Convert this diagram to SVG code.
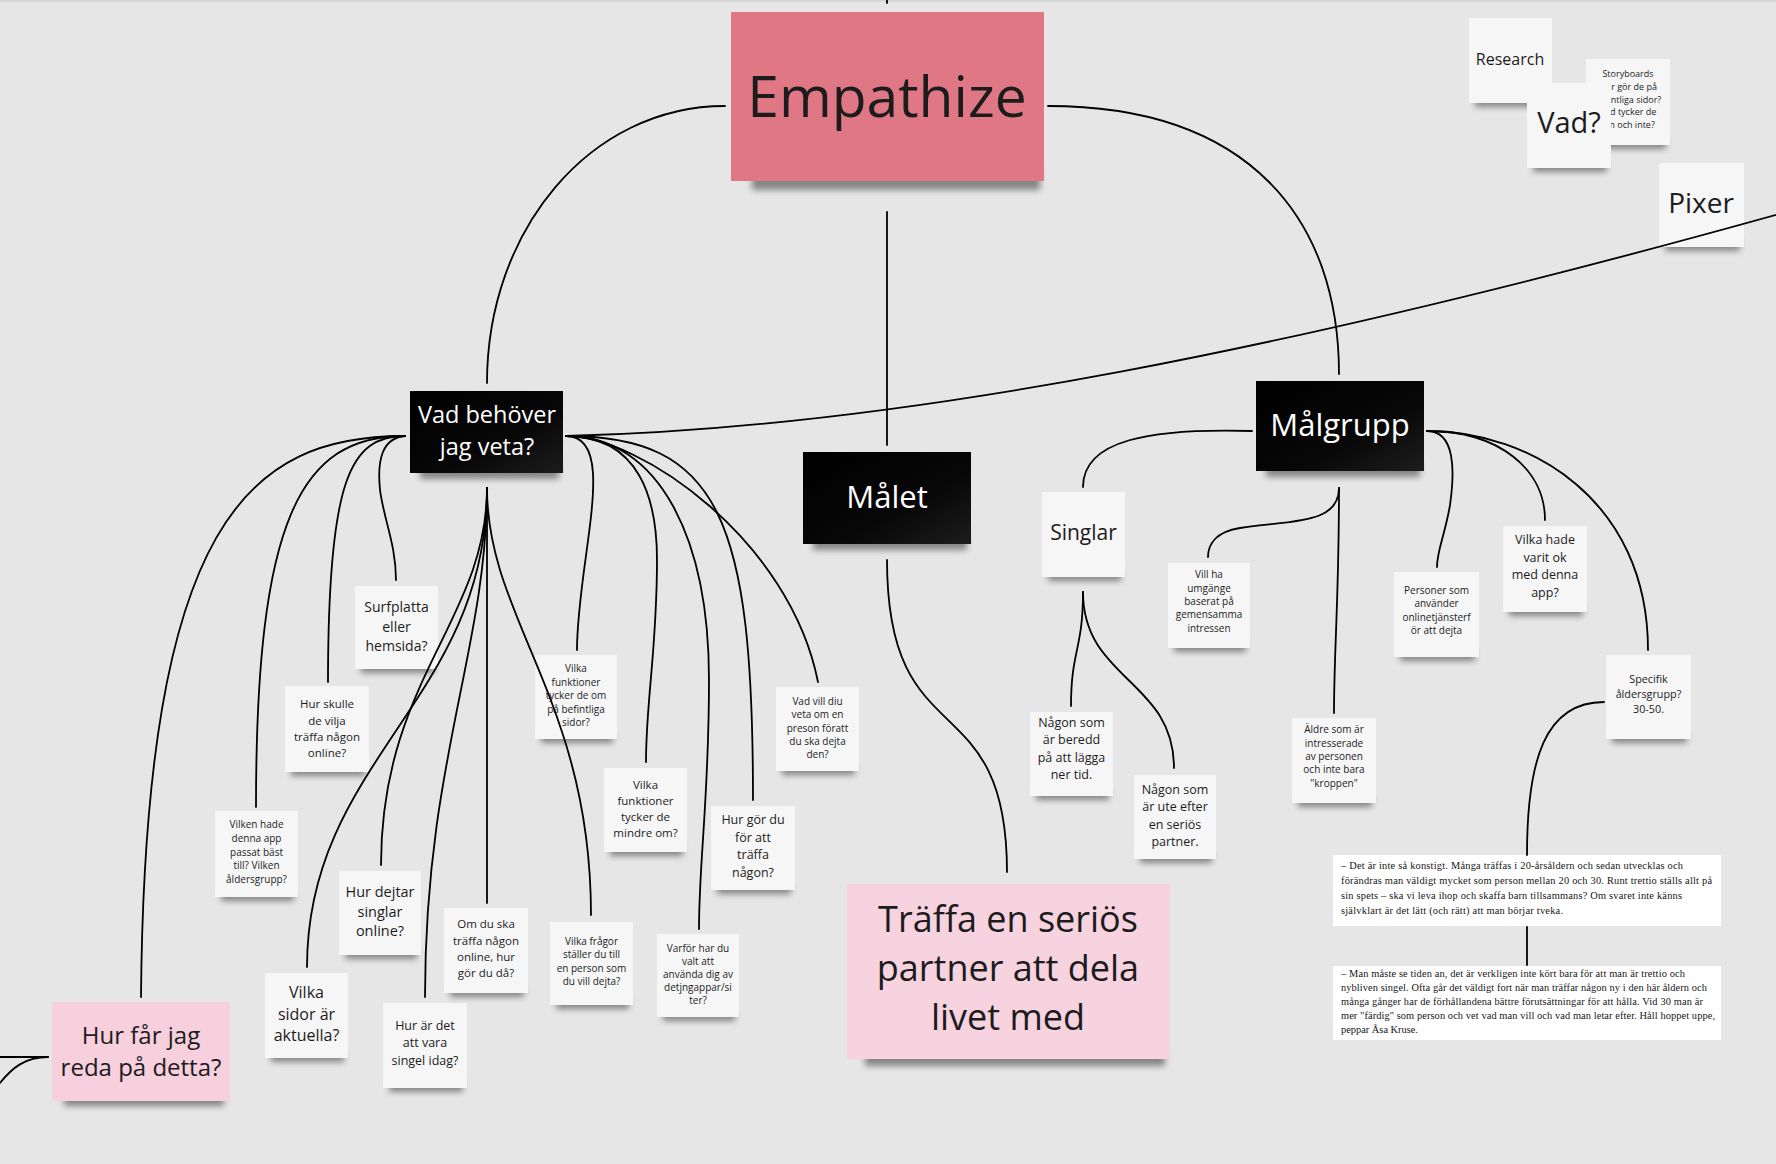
<svg xmlns="http://www.w3.org/2000/svg" width="1776" height="1164" viewBox="0 0 1776 1164">
<defs>
<style>
.bg{fill:#e6e6e6}
.note{fill:#f6f6f7}
.dark{fill:url(#gd)}
.sh{fill:#000;opacity:.42;filter:url(#blur)}
.t{font-family:'Open Sans','Noto Sans','DejaVu Sans',sans-serif;fill:#1c1c1c;text-anchor:middle}
.w{fill:#ffffff}
.c{fill:none;stroke:#000;stroke-width:1.8;stroke-linecap:round}
.s{font-family:'Liberation Serif','DejaVu Serif',serif;font-size:10.4px;fill:#161616}
</style>
<filter id="blur" x="-20%" y="-80%" width="140%" height="260%"><feGaussianBlur stdDeviation="3.2"/></filter>
<linearGradient id="gd" x1="0" y1="0" x2="1" y2="1"><stop offset="0" stop-color="#000"/><stop offset="0.6" stop-color="#070707"/><stop offset="1" stop-color="#1d1d1d"/></linearGradient>
</defs>
<rect class="bg" x="0" y="0" width="1776" height="1164"/>
<line x1="0" y1="1" x2="1776" y2="1" stroke="#d6d6d6" stroke-width="2"/>

<g id="empathize">
<rect class="sh" x="752" y="168" width="288" height="22"/>
<rect x="731" y="12" width="313" height="169" fill="#e07785"/>
<text class="t" x="887" y="117" font-size="57">Empathize</text>
</g>

<g id="research">
<rect class="sh" x="1475" y="95" width="73" height="12"/>
<rect class="note" x="1469" y="18" width="83" height="85"/>
<text class="t" x="1510" y="65" font-size="16">Research</text>
</g>
<g id="storyboards">
<rect class="sh" x="1592" y="137" width="74" height="12"/>
<rect class="note" x="1586" y="59" width="84" height="86"/>
<text class="t" font-size="9"><tspan x="1628" y="77">Storyboards</tspan><tspan x="1628" y="90">Hur gör de på</tspan><tspan x="1628" y="103">befintliga sidor?</tspan><tspan x="1628" y="115">Vad tycker de</tspan><tspan x="1628" y="128">om och inte?</tspan></text>
</g>
<g id="vad">
<rect class="sh" x="1533" y="160" width="74" height="12"/>
<rect class="note" x="1527" y="83" width="84" height="85"/>
<text class="t" x="1569" y="133" font-size="29">Vad?</text>
</g>
<g id="pixer">
<rect class="sh" x="1665" y="239" width="75" height="12"/>
<rect class="note" x="1659" y="163" width="85" height="84"/>
<text class="t" x="1701" y="213" font-size="28">Pixer</text>
</g>

<g id="vad-behover">
<rect class="sh" x="420" y="465" width="139" height="14"/>
<rect class="dark" x="410" y="391" width="153" height="82"/>
<text class="t w" font-size="23.5"><tspan x="487" y="423">Vad behöver</tspan><tspan x="487" y="455">jag veta?</tspan></text>
</g>
<g id="malet">
<rect class="sh" x="813" y="536" width="154" height="14"/>
<rect class="dark" x="803" y="452" width="168" height="92"/>
<text class="t w" x="887" y="508" font-size="31">Målet</text>
</g>
<g id="malgrupp">
<rect class="sh" x="1266" y="463" width="154" height="14"/>
<rect class="dark" x="1256" y="381" width="168" height="90"/>
<text class="t w" x="1340" y="436" font-size="31">Målgrupp</text>
</g>
<g id="traffa">
<rect class="sh" x="865" y="1046" width="300" height="20"/>
<rect x="847" y="884" width="323" height="175" fill="#f7d2df"/>
<text class="t" font-size="36"><tspan x="1008" y="932">Träffa en seriös</tspan><tspan x="1008" y="981">partner att dela</tspan><tspan x="1008" y="1030">livet med</tspan></text>
</g>
<g id="hur-far-jag">
<rect class="sh" x="64" y="1090" width="160" height="16"/>
<rect x="52" y="1002" width="178" height="99" fill="#f7cfdd"/>
<text class="t" font-size="24"><tspan x="141" y="1044">Hur får jag</tspan><tspan x="141" y="1076">reda på detta?</tspan></text>
</g>

<g id="surfplatta">
<rect class="sh" x="361" y="661" width="73" height="12"/>
<rect class="note" x="355" y="586" width="83" height="83"/>
<text class="t" font-size="14"><tspan x="396.5" y="612">Surfplatta</tspan><tspan x="396.5" y="632">eller</tspan><tspan x="396.5" y="651">hemsida?</tspan></text>
</g>
<g id="hur-skulle">
<rect class="sh" x="291" y="764" width="74" height="12"/>
<rect class="note" x="285" y="686" width="84" height="86"/>
<text class="t" font-size="11.5"><tspan x="327" y="708">Hur skulle</tspan><tspan x="327" y="725">de vilja</tspan><tspan x="327" y="741">träffa någon</tspan><tspan x="327" y="757">online?</tspan></text>
</g>
<g id="vilken-hade">
<rect class="sh" x="221" y="889" width="73" height="12"/>
<rect class="note" x="215" y="811" width="83" height="86"/>
<text class="t" font-size="10"><tspan x="256.5" y="828">Vilken hade</tspan><tspan x="256.5" y="842">denna app</tspan><tspan x="256.5" y="856">passat bäst</tspan><tspan x="256.5" y="869">till? Vilken</tspan><tspan x="256.5" y="883">åldersgrupp?</tspan></text>
</g>
<g id="funktioner-om">
<rect class="sh" x="541" y="731" width="72" height="12"/>
<rect class="note" x="535" y="655" width="82" height="84"/>
<text class="t" font-size="10"><tspan x="576" y="672">Vilka</tspan><tspan x="576" y="686">funktioner</tspan><tspan x="576" y="699">tycker de om</tspan><tspan x="576" y="713">på befintliga</tspan><tspan x="576" y="726">sidor?</tspan></text>
</g>
<g id="funktioner-mindre">
<rect class="sh" x="610" y="844" width="73" height="12"/>
<rect class="note" x="604" y="768" width="83" height="84"/>
<text class="t" font-size="11.5"><tspan x="645.5" y="789">Vilka</tspan><tspan x="645.5" y="805">funktioner</tspan><tspan x="645.5" y="821">tycker de</tspan><tspan x="645.5" y="837">mindre om?</tspan></text>
</g>
<g id="hur-gor-du">
<rect class="sh" x="717" y="882" width="74" height="12"/>
<rect class="note" x="711" y="806" width="84" height="84"/>
<text class="t" font-size="12.5"><tspan x="753" y="824">Hur gör du</tspan><tspan x="753" y="842">för att</tspan><tspan x="753" y="859">träffa</tspan><tspan x="753" y="877">någon?</tspan></text>
</g>
<g id="vad-vill-du">
<rect class="sh" x="782" y="763" width="73" height="12"/>
<rect class="note" x="776" y="687" width="83" height="84"/>
<text class="t" font-size="10"><tspan x="817.5" y="705">Vad vill diu</tspan><tspan x="817.5" y="718">veta om en</tspan><tspan x="817.5" y="732">preson föratt</tspan><tspan x="817.5" y="745">du ska dejta</tspan><tspan x="817.5" y="758">den?</tspan></text>
</g>
<g id="vilka-sidor">
<rect class="sh" x="271" y="1050" width="73" height="12"/>
<rect class="note" x="265" y="973" width="83" height="85"/>
<text class="t" font-size="16"><tspan x="306.5" y="998">Vilka</tspan><tspan x="306.5" y="1020">sidor är</tspan><tspan x="306.5" y="1041">aktuella?</tspan></text>
</g>
<g id="hur-dejtar">
<rect class="sh" x="345" y="947" width="72" height="12"/>
<rect class="note" x="339" y="871" width="82" height="84"/>
<text class="t" font-size="14.5"><tspan x="380" y="897">Hur dejtar</tspan><tspan x="380" y="917">singlar</tspan><tspan x="380" y="936">online?</tspan></text>
</g>
<g id="hur-ar-det">
<rect class="sh" x="389" y="1080" width="74" height="12"/>
<rect class="note" x="383" y="1003" width="84" height="85"/>
<text class="t" font-size="12.5"><tspan x="425" y="1030">Hur är det</tspan><tspan x="425" y="1047">att vara</tspan><tspan x="425" y="1065">singel idag?</tspan></text>
</g>
<g id="om-du-ska">
<rect class="sh" x="450" y="985" width="74" height="12"/>
<rect class="note" x="444" y="908" width="84" height="85"/>
<text class="t" font-size="11.5"><tspan x="486" y="928">Om du ska</tspan><tspan x="486" y="945">träffa någon</tspan><tspan x="486" y="961">online, hur</tspan><tspan x="486" y="977">gör du då?</tspan></text>
</g>
<g id="vilka-fragor">
<rect class="sh" x="556" y="997" width="73" height="12"/>
<rect class="note" x="550" y="922" width="83" height="83"/>
<text class="t" font-size="10"><tspan x="591.5" y="945">Vilka frågor</tspan><tspan x="591.5" y="958">ställer du till</tspan><tspan x="591.5" y="972">en person som</tspan><tspan x="591.5" y="985">du vill dejta?</tspan></text>
</g>
<g id="varfor">
<rect class="sh" x="663" y="1009" width="72" height="12"/>
<rect class="note" x="657" y="934" width="82" height="83"/>
<text class="t" font-size="10"><tspan x="698" y="952">Varför har du</tspan><tspan x="698" y="965">valt att</tspan><tspan x="698" y="978">använda dig av</tspan><tspan x="698" y="991">detjngappar/si</tspan><tspan x="698" y="1004">ter?</tspan></text>
</g>

<g id="singlar">
<rect class="sh" x="1048" y="569" width="73" height="12"/>
<rect class="note" x="1042" y="492" width="83" height="85"/>
<text class="t" x="1083.5" y="540" font-size="21">Singlar</text>
</g>
<g id="nagon-beredd">
<rect class="sh" x="1036" y="788" width="73" height="12"/>
<rect class="note" x="1030" y="712" width="83" height="84"/>
<text class="t" font-size="12.5"><tspan x="1071.5" y="727">Någon som</tspan><tspan x="1071.5" y="744">är beredd</tspan><tspan x="1071.5" y="762">på att lägga</tspan><tspan x="1071.5" y="779">ner tid.</tspan></text>
</g>
<g id="nagon-ute">
<rect class="sh" x="1140" y="851" width="72" height="12"/>
<rect class="note" x="1134" y="775" width="82" height="84"/>
<text class="t" font-size="12.5"><tspan x="1175" y="794">Någon som</tspan><tspan x="1175" y="811">är ute efter</tspan><tspan x="1175" y="829">en seriös</tspan><tspan x="1175" y="846">partner.</tspan></text>
</g>
<g id="vill-ha">
<rect class="sh" x="1174" y="640" width="72" height="12"/>
<rect class="note" x="1168" y="563" width="82" height="85"/>
<text class="t" font-size="10"><tspan x="1209" y="578">Vill ha</tspan><tspan x="1209" y="592">umgänge</tspan><tspan x="1209" y="605">baserat på</tspan><tspan x="1209" y="618">gemensamma</tspan><tspan x="1209" y="632">intressen</tspan></text>
</g>
<g id="aldre">
<rect class="sh" x="1298" y="795" width="74" height="12"/>
<rect class="note" x="1292" y="718" width="84" height="85"/>
<text class="t" font-size="10"><tspan x="1334" y="733">Äldre som är</tspan><tspan x="1334" y="747">intresserade</tspan><tspan x="1334" y="760">av personen</tspan><tspan x="1334" y="773">och inte bara</tspan><tspan x="1334" y="787">"kroppen"</tspan></text>
</g>
<g id="personer">
<rect class="sh" x="1400" y="649" width="75" height="12"/>
<rect class="note" x="1394" y="572" width="85" height="85"/>
<text class="t" font-size="10"><tspan x="1436.5" y="594">Personer som</tspan><tspan x="1436.5" y="607">använder</tspan><tspan x="1436.5" y="621">onlinetjänsterf</tspan><tspan x="1436.5" y="634">ör att dejta</tspan></text>
</g>
<g id="vilka-hade">
<rect class="sh" x="1509" y="604" width="74" height="12"/>
<rect class="note" x="1503" y="526" width="84" height="86"/>
<text class="t" font-size="12.5"><tspan x="1545" y="544">Vilka hade</tspan><tspan x="1545" y="562">varit ok</tspan><tspan x="1545" y="579">med denna</tspan><tspan x="1545" y="597">app?</tspan></text>
</g>
<g id="specifik">
<rect class="sh" x="1612" y="731" width="75" height="12"/>
<rect class="note" x="1606" y="655" width="85" height="84"/>
<text class="t" font-size="10.8"><tspan x="1648.5" y="683">Specifik</tspan><tspan x="1648.5" y="698">åldersgrupp?</tspan><tspan x="1648.5" y="713">30-50.</tspan></text>
</g>

<g id="quote-1">
<rect x="1333" y="855" width="388" height="71" fill="#ffffff"/>
<text class="s" lengthAdjust="spacing"><tspan x="1341" y="869" textLength="342">– Det är inte så konstigt. Många träffas i 20-årsåldern och sedan utvecklas och</tspan><tspan x="1341" y="884" textLength="371">förändras man väldigt mycket som person mellan 20 och 30. Runt trettio ställs allt på</tspan><tspan x="1341" y="899" textLength="341">sin spets – ska vi leva ihop och skaffa barn tillsammans? Om svaret inte känns</tspan><tspan x="1341" y="914" textLength="222">självklart är det lätt (och rätt) att man börjar tveka.</tspan></text>
</g>
<g id="quote-2">
<rect x="1333" y="966" width="388" height="74" fill="#ffffff"/>
<text class="s"><tspan x="1341" y="977" textLength="344">– Man måste se tiden an, det är verkligen inte kört bara för att man är trettio och</tspan><tspan x="1341" y="991" textLength="366">nybliven singel. Ofta går det väldigt fort när man träffar någon ny i den här åldern och</tspan><tspan x="1341" y="1005" textLength="362">många gånger har de förhållandena bättre förutsättningar för att hålla. Vid 30 man är</tspan><tspan x="1341" y="1019" textLength="374">mer "färdig" som person och vet vad man vill och vad man letar efter. Håll hoppet uppe,</tspan><tspan x="1341" y="1033" textLength="77">peppar Åsa Kruse.</tspan></text>
</g>

<g id="connectors" class="c">
<path d="M887,0 L887,3"/>
<path d="M725,106 C590,106 487,230 487,383"/>
<path d="M1048,106 C1250,106 1339,220 1339,374"/>
<path d="M887,212 L887,445"/>
<path d="M887,560 C887,760 1007,680 1007,872"/>
<path d="M566,436 C900,428 1300,348 1790,211"/>
<path d="M405,436 C250,436 145,520 141,997"/>
<path d="M405,436 C300,436 256,520 256,807"/>
<path d="M405,436 C350,436 328,480 328,682"/>
<path d="M405,436 C382,438 377,460 380,490 C384,520 396,545 396,580"/>
<path d="M566,436 C620,436 577,560 577,650"/>
<path d="M566,436 C640,436 657,500 657,560 C657,650 646,700 646,762"/>
<path d="M566,436 C660,436 709,540 709,680 C709,800 699,860 699,929"/>
<path d="M566,436 C720,436 753,520 753,800"/>
<path d="M566,436 C640,436 790,540 818,682"/>
<path d="M487,488 C487,700 307,760 307,967"/>
<path d="M487,488 C487,620 381,680 381,865"/>
<path d="M487,488 C487,650 425,760 425,997"/>
<path d="M487,488 L487,903"/>
<path d="M487,488 C487,620 591,700 591,915"/>
<path d="M1252,431 C1150,428 1083,440 1083,487"/>
<path d="M1083,592 C1083,650 1071,650 1071,706"/>
<path d="M1083,592 C1083,680 1174,680 1174,768"/>
<path d="M1339,488 C1339,525 1290,520 1240,528 C1215,532 1208,545 1208,557"/>
<path d="M1339,488 C1339,600 1334,650 1334,713"/>
<path d="M1427,431 C1455,431 1455,470 1450,505 C1445,535 1437,550 1437,567"/>
<path d="M1427,431 C1500,431 1545,470 1545,520"/>
<path d="M1427,431 C1530,431 1648,500 1648,650"/>
<path d="M1604,702 C1545,702 1527,760 1527,855"/>
<path d="M1527,927 L1527,965"/>
<path d="M0,1057 L48,1057"/>
<path d="M0,1083 C12,1068 25,1057 48,1057"/>
</g>
</svg>
